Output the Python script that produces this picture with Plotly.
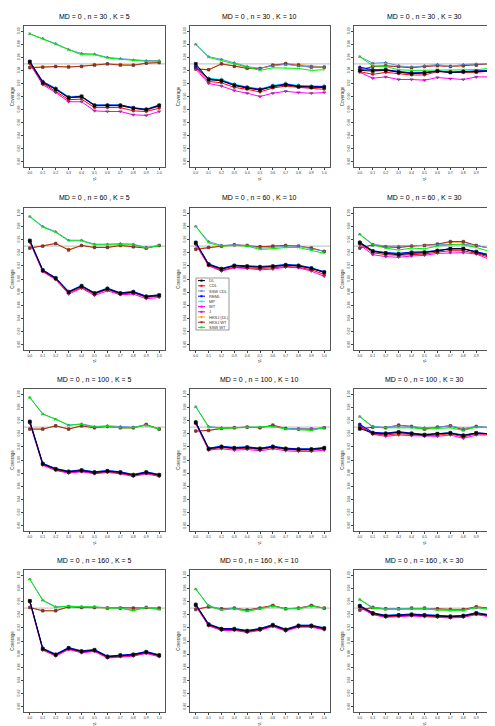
import plotly.graph_objects as go

# ── Axis values ───────────────────────────────────────────────────────────────

TAU2 = [0.0, 0.1, 0.2, 0.3, 0.4, 0.5, 0.6, 0.7, 0.8, 0.9, 1.0]
TAU2_LABELS = ["0.0", "0.1", "0.2", "0.3", "0.4", "0.5", "0.6", "0.7", "0.8", "0.9", "1.0"]
Y_TICKS = [0.80, 0.82, 0.84, 0.86, 0.88, 0.90, 0.92, 0.94, 0.96, 0.98, 1.00]
Y_TICK_LABELS = ["0.80", "0.82", "0.84", "0.86", "0.88", "0.90", "0.92", "0.94", "0.96", "0.98", "1.00"]
NOMINAL = 0.95

SAMPLE_SIZES = [30, 60, 100, 160]
STUDY_COUNTS = [5, 10, 30]

METHODS = ["DL", "CDL", "SSW CDL", "REML", "MP", "WT", "J", "HKSJ (DL)", "HKSJ WT", "SSW WT"]
METHOD_KEYS = ["dl", "cdl", "sswcdl", "reml", "mp", "wt", "j", "hksjdl", "hksjwt", "sswwt"]

# ── Coverage values ───────────────────────────────────────────────────────────

# n = 30, K = 5
dl_n30_k5 = [0.953, 0.921, 0.911, 0.898, 0.900, 0.886, 0.886, 0.886, 0.882, 0.880, 0.886]
cdl_n30_k5 = [0.951, 0.920, 0.908, 0.895, 0.896, 0.883, 0.883, 0.883, 0.878, 0.877, 0.882]
sswcdl_n30_k5 = [0.996, 0.989, 0.981, 0.972, 0.966, 0.965, 0.960, 0.958, 0.956, 0.955, 0.955]
reml_n30_k5 = [0.954, 0.923, 0.912, 0.899, 0.900, 0.887, 0.887, 0.887, 0.883, 0.880, 0.887]
mp_n30_k5 = [0.954, 0.923, 0.913, 0.900, 0.901, 0.887, 0.887, 0.887, 0.883, 0.881, 0.887]
wt_n30_k5 = [0.950, 0.918, 0.906, 0.892, 0.892, 0.878, 0.877, 0.877, 0.872, 0.871, 0.877]
j_n30_k5 = [0.953, 0.922, 0.911, 0.898, 0.899, 0.886, 0.886, 0.886, 0.882, 0.879, 0.885]
hksjdl_n30_k5 = [0.945, 0.945, 0.946, 0.946, 0.946, 0.949, 0.950, 0.949, 0.948, 0.951, 0.952]
hksjwt_n30_k5 = [0.944, 0.945, 0.946, 0.945, 0.946, 0.948, 0.950, 0.948, 0.948, 0.951, 0.952]
sswwt_n30_k5 = [0.996, 0.988, 0.980, 0.971, 0.964, 0.964, 0.959, 0.957, 0.955, 0.954, 0.954]

# n = 30, K = 10
dl_n30_k10 = [0.950, 0.926, 0.924, 0.917, 0.913, 0.910, 0.915, 0.918, 0.915, 0.914, 0.914]
cdl_n30_k10 = [0.944, 0.923, 0.921, 0.914, 0.911, 0.907, 0.913, 0.916, 0.914, 0.913, 0.911]
sswcdl_n30_k10 = [0.980, 0.961, 0.957, 0.952, 0.946, 0.943, 0.947, 0.949, 0.947, 0.945, 0.945]
reml_n30_k10 = [0.946, 0.927, 0.925, 0.918, 0.914, 0.911, 0.916, 0.919, 0.916, 0.915, 0.915]
mp_n30_k10 = [0.946, 0.928, 0.926, 0.919, 0.915, 0.912, 0.917, 0.920, 0.917, 0.916, 0.916]
wt_n30_k10 = [0.942, 0.920, 0.916, 0.909, 0.905, 0.900, 0.905, 0.908, 0.906, 0.905, 0.906]
j_n30_k10 = [0.945, 0.926, 0.924, 0.917, 0.913, 0.910, 0.916, 0.918, 0.916, 0.914, 0.914]
hksjdl_n30_k10 = [0.943, 0.941, 0.950, 0.947, 0.944, 0.943, 0.948, 0.951, 0.949, 0.946, 0.945]
hksjwt_n30_k10 = [0.942, 0.941, 0.950, 0.946, 0.943, 0.943, 0.948, 0.950, 0.948, 0.945, 0.945]
sswwt_n30_k10 = [0.980, 0.960, 0.955, 0.950, 0.944, 0.940, 0.944, 0.944, 0.943, 0.940, 0.941]

# n = 30, K = 30
dl_n30_k30 = [0.940, 0.939, 0.940, 0.937, 0.935, 0.936, 0.939, 0.937, 0.938, 0.938, 0.939]
cdl_n30_k30 = [0.938, 0.934, 0.937, 0.935, 0.933, 0.933, 0.938, 0.937, 0.937, 0.937, 0.939]
sswcdl_n30_k30 = [0.961, 0.951, 0.952, 0.947, 0.945, 0.947, 0.949, 0.946, 0.949, 0.950, 0.950]
reml_n30_k30 = [0.945, 0.941, 0.941, 0.938, 0.936, 0.937, 0.939, 0.937, 0.938, 0.939, 0.940]
mp_n30_k30 = [0.944, 0.941, 0.942, 0.938, 0.937, 0.937, 0.940, 0.938, 0.939, 0.939, 0.940]
wt_n30_k30 = [0.937, 0.928, 0.930, 0.926, 0.926, 0.925, 0.929, 0.927, 0.926, 0.930, 0.930]
j_n30_k30 = [0.943, 0.940, 0.941, 0.937, 0.936, 0.936, 0.939, 0.937, 0.938, 0.938, 0.939]
hksjdl_n30_k30 = [0.941, 0.946, 0.947, 0.946, 0.945, 0.946, 0.948, 0.946, 0.947, 0.948, 0.950]
hksjwt_n30_k30 = [0.940, 0.946, 0.947, 0.946, 0.944, 0.946, 0.947, 0.946, 0.947, 0.948, 0.950]
sswwt_n30_k30 = [0.961, 0.947, 0.946, 0.941, 0.940, 0.940, 0.941, 0.940, 0.941, 0.941, 0.943]

# n = 60, K = 5
dl_n60_k5 = [0.958, 0.913, 0.901, 0.880, 0.889, 0.878, 0.885, 0.878, 0.880, 0.873, 0.875]
cdl_n60_k5 = [0.957, 0.912, 0.900, 0.879, 0.887, 0.877, 0.884, 0.877, 0.879, 0.872, 0.874]
sswcdl_n60_k5 = [0.995, 0.980, 0.972, 0.959, 0.959, 0.953, 0.953, 0.954, 0.953, 0.948, 0.951]
reml_n60_k5 = [0.959, 0.914, 0.902, 0.881, 0.890, 0.879, 0.886, 0.879, 0.881, 0.874, 0.876]
mp_n60_k5 = [0.959, 0.914, 0.902, 0.881, 0.890, 0.879, 0.886, 0.879, 0.881, 0.874, 0.876]
wt_n60_k5 = [0.956, 0.911, 0.899, 0.877, 0.886, 0.875, 0.882, 0.876, 0.877, 0.870, 0.872]
j_n60_k5 = [0.958, 0.913, 0.901, 0.880, 0.889, 0.878, 0.885, 0.878, 0.880, 0.873, 0.875]
hksjdl_n60_k5 = [0.947, 0.950, 0.954, 0.945, 0.951, 0.948, 0.948, 0.951, 0.949, 0.947, 0.951]
hksjwt_n60_k5 = [0.947, 0.950, 0.954, 0.944, 0.951, 0.948, 0.948, 0.951, 0.949, 0.947, 0.951]
sswwt_n60_k5 = [0.995, 0.979, 0.971, 0.958, 0.958, 0.952, 0.952, 0.952, 0.952, 0.947, 0.951]

# n = 60, K = 10
dl_n60_k10 = [0.955, 0.922, 0.915, 0.920, 0.919, 0.918, 0.919, 0.921, 0.920, 0.916, 0.910]
cdl_n60_k10 = [0.954, 0.921, 0.913, 0.918, 0.917, 0.916, 0.917, 0.919, 0.918, 0.914, 0.907]
sswcdl_n60_k10 = [0.980, 0.957, 0.951, 0.952, 0.951, 0.947, 0.948, 0.950, 0.950, 0.946, 0.942]
reml_n60_k10 = [0.956, 0.923, 0.916, 0.921, 0.920, 0.919, 0.920, 0.922, 0.921, 0.917, 0.911]
mp_n60_k10 = [0.956, 0.923, 0.916, 0.921, 0.920, 0.919, 0.920, 0.922, 0.921, 0.917, 0.911]
wt_n60_k10 = [0.952, 0.920, 0.912, 0.917, 0.916, 0.914, 0.915, 0.918, 0.917, 0.912, 0.904]
j_n60_k10 = [0.955, 0.922, 0.915, 0.920, 0.919, 0.918, 0.919, 0.921, 0.920, 0.916, 0.910]
hksjdl_n60_k10 = [0.946, 0.948, 0.950, 0.952, 0.951, 0.949, 0.950, 0.951, 0.950, 0.947, 0.942]
hksjwt_n60_k10 = [0.945, 0.948, 0.950, 0.952, 0.951, 0.949, 0.950, 0.951, 0.950, 0.947, 0.942]
sswwt_n60_k10 = [0.980, 0.955, 0.950, 0.951, 0.950, 0.945, 0.946, 0.948, 0.948, 0.944, 0.939]

# n = 60, K = 30
dl_n60_k30 = [0.955, 0.942, 0.939, 0.937, 0.939, 0.940, 0.943, 0.946, 0.946, 0.941, 0.935]
cdl_n60_k30 = [0.954, 0.940, 0.937, 0.936, 0.937, 0.938, 0.941, 0.943, 0.943, 0.939, 0.933]
sswcdl_n60_k30 = [0.968, 0.953, 0.950, 0.950, 0.951, 0.951, 0.952, 0.953, 0.953, 0.951, 0.947]
reml_n60_k30 = [0.956, 0.943, 0.940, 0.939, 0.941, 0.941, 0.943, 0.946, 0.946, 0.942, 0.937]
mp_n60_k30 = [0.956, 0.943, 0.940, 0.939, 0.941, 0.941, 0.944, 0.946, 0.946, 0.942, 0.937]
wt_n60_k30 = [0.952, 0.937, 0.934, 0.933, 0.935, 0.936, 0.939, 0.940, 0.940, 0.938, 0.930]
j_n60_k30 = [0.956, 0.942, 0.940, 0.938, 0.940, 0.941, 0.943, 0.946, 0.946, 0.941, 0.936]
hksjdl_n60_k30 = [0.947, 0.952, 0.949, 0.948, 0.950, 0.951, 0.953, 0.956, 0.956, 0.951, 0.947]
hksjwt_n60_k30 = [0.947, 0.952, 0.949, 0.948, 0.950, 0.951, 0.953, 0.957, 0.957, 0.951, 0.947]
sswwt_n60_k30 = [0.968, 0.952, 0.947, 0.944, 0.947, 0.946, 0.950, 0.952, 0.952, 0.948, 0.942]

# n = 100, K = 5
dl_n100_k5 = [0.958, 0.894, 0.886, 0.882, 0.884, 0.881, 0.883, 0.881, 0.877, 0.881, 0.877]
cdl_n100_k5 = [0.957, 0.893, 0.885, 0.881, 0.883, 0.880, 0.882, 0.880, 0.876, 0.880, 0.876]
sswcdl_n100_k5 = [0.995, 0.970, 0.962, 0.953, 0.955, 0.951, 0.952, 0.951, 0.950, 0.953, 0.947]
reml_n100_k5 = [0.959, 0.895, 0.887, 0.883, 0.885, 0.882, 0.884, 0.882, 0.878, 0.882, 0.878]
mp_n100_k5 = [0.959, 0.895, 0.887, 0.883, 0.885, 0.882, 0.884, 0.882, 0.878, 0.882, 0.878]
wt_n100_k5 = [0.956, 0.892, 0.884, 0.880, 0.882, 0.879, 0.881, 0.879, 0.875, 0.879, 0.875]
j_n100_k5 = [0.958, 0.894, 0.886, 0.882, 0.884, 0.881, 0.883, 0.881, 0.877, 0.881, 0.877]
hksjdl_n100_k5 = [0.947, 0.947, 0.952, 0.947, 0.952, 0.949, 0.951, 0.949, 0.949, 0.954, 0.947]
hksjwt_n100_k5 = [0.947, 0.947, 0.952, 0.947, 0.952, 0.949, 0.951, 0.949, 0.949, 0.954, 0.947]
sswwt_n100_k5 = [0.995, 0.970, 0.962, 0.953, 0.954, 0.950, 0.951, 0.949, 0.949, 0.953, 0.947]

# n = 100, K = 10
dl_n100_k10 = [0.957, 0.917, 0.920, 0.918, 0.919, 0.917, 0.920, 0.917, 0.916, 0.916, 0.918]
cdl_n100_k10 = [0.956, 0.916, 0.919, 0.917, 0.918, 0.916, 0.919, 0.916, 0.915, 0.915, 0.917]
sswcdl_n100_k10 = [0.981, 0.951, 0.949, 0.950, 0.950, 0.950, 0.951, 0.948, 0.947, 0.947, 0.949]
reml_n100_k10 = [0.958, 0.918, 0.921, 0.919, 0.920, 0.918, 0.921, 0.918, 0.917, 0.917, 0.919]
mp_n100_k10 = [0.958, 0.918, 0.921, 0.919, 0.920, 0.918, 0.921, 0.918, 0.917, 0.917, 0.919]
wt_n100_k10 = [0.955, 0.915, 0.917, 0.915, 0.916, 0.914, 0.917, 0.914, 0.913, 0.913, 0.915]
j_n100_k10 = [0.957, 0.917, 0.920, 0.918, 0.919, 0.917, 0.920, 0.917, 0.916, 0.916, 0.918]
hksjdl_n100_k10 = [0.944, 0.945, 0.948, 0.949, 0.950, 0.949, 0.953, 0.948, 0.947, 0.947, 0.949]
hksjwt_n100_k10 = [0.944, 0.945, 0.948, 0.949, 0.950, 0.949, 0.953, 0.948, 0.947, 0.947, 0.949]
sswwt_n100_k10 = [0.981, 0.950, 0.948, 0.949, 0.950, 0.950, 0.951, 0.947, 0.946, 0.945, 0.949]

# n = 100, K = 30
dl_n100_k30 = [0.948, 0.941, 0.940, 0.942, 0.940, 0.938, 0.940, 0.941, 0.937, 0.941, 0.940]
cdl_n100_k30 = [0.952, 0.940, 0.938, 0.940, 0.939, 0.937, 0.938, 0.940, 0.935, 0.940, 0.939]
sswcdl_n100_k30 = [0.966, 0.951, 0.950, 0.952, 0.951, 0.949, 0.950, 0.952, 0.948, 0.951, 0.950]
reml_n100_k30 = [0.954, 0.942, 0.941, 0.943, 0.941, 0.939, 0.940, 0.941, 0.938, 0.941, 0.940]
mp_n100_k30 = [0.954, 0.942, 0.941, 0.943, 0.941, 0.939, 0.940, 0.942, 0.938, 0.941, 0.940]
wt_n100_k30 = [0.951, 0.939, 0.936, 0.938, 0.937, 0.936, 0.936, 0.938, 0.933, 0.938, 0.938]
j_n100_k30 = [0.954, 0.941, 0.940, 0.942, 0.940, 0.938, 0.940, 0.941, 0.937, 0.941, 0.940]
hksjdl_n100_k30 = [0.947, 0.950, 0.949, 0.953, 0.951, 0.947, 0.950, 0.952, 0.946, 0.951, 0.949]
hksjwt_n100_k30 = [0.947, 0.950, 0.949, 0.953, 0.951, 0.947, 0.950, 0.952, 0.946, 0.951, 0.949]
sswwt_n100_k30 = [0.966, 0.950, 0.949, 0.949, 0.949, 0.947, 0.948, 0.949, 0.945, 0.950, 0.949]

# n = 160, K = 5
dl_n160_k5 = [0.961, 0.888, 0.879, 0.889, 0.884, 0.886, 0.876, 0.878, 0.879, 0.883, 0.878]
cdl_n160_k5 = [0.960, 0.887, 0.878, 0.888, 0.883, 0.885, 0.875, 0.877, 0.878, 0.882, 0.877]
sswcdl_n160_k5 = [0.994, 0.962, 0.952, 0.953, 0.952, 0.952, 0.951, 0.950, 0.947, 0.951, 0.948]
reml_n160_k5 = [0.961, 0.889, 0.880, 0.890, 0.885, 0.887, 0.877, 0.879, 0.880, 0.884, 0.879]
mp_n160_k5 = [0.961, 0.889, 0.880, 0.890, 0.885, 0.887, 0.877, 0.879, 0.880, 0.884, 0.879]
wt_n160_k5 = [0.959, 0.886, 0.877, 0.887, 0.882, 0.884, 0.874, 0.876, 0.877, 0.881, 0.876]
j_n160_k5 = [0.961, 0.888, 0.879, 0.889, 0.884, 0.886, 0.876, 0.878, 0.879, 0.883, 0.878]
hksjdl_n160_k5 = [0.951, 0.946, 0.946, 0.952, 0.951, 0.951, 0.950, 0.950, 0.950, 0.951, 0.950]
hksjwt_n160_k5 = [0.951, 0.946, 0.946, 0.952, 0.951, 0.951, 0.950, 0.950, 0.950, 0.951, 0.950]
sswwt_n160_k5 = [0.994, 0.962, 0.951, 0.953, 0.952, 0.952, 0.950, 0.950, 0.946, 0.951, 0.948]

# n = 160, K = 10
dl_n160_k10 = [0.955, 0.925, 0.918, 0.918, 0.915, 0.918, 0.924, 0.917, 0.923, 0.923, 0.919]
cdl_n160_k10 = [0.954, 0.924, 0.917, 0.917, 0.914, 0.917, 0.923, 0.916, 0.922, 0.922, 0.918]
sswcdl_n160_k10 = [0.979, 0.954, 0.948, 0.950, 0.946, 0.950, 0.953, 0.949, 0.950, 0.953, 0.950]
reml_n160_k10 = [0.956, 0.926, 0.919, 0.919, 0.916, 0.919, 0.925, 0.918, 0.924, 0.924, 0.920]
mp_n160_k10 = [0.956, 0.926, 0.919, 0.919, 0.916, 0.919, 0.925, 0.918, 0.924, 0.924, 0.920]
wt_n160_k10 = [0.953, 0.923, 0.916, 0.916, 0.913, 0.916, 0.922, 0.915, 0.921, 0.921, 0.917]
j_n160_k10 = [0.955, 0.925, 0.918, 0.918, 0.915, 0.918, 0.924, 0.917, 0.923, 0.923, 0.919]
hksjdl_n160_k10 = [0.948, 0.952, 0.949, 0.950, 0.947, 0.950, 0.954, 0.949, 0.950, 0.954, 0.950]
hksjwt_n160_k10 = [0.948, 0.952, 0.949, 0.950, 0.947, 0.950, 0.954, 0.949, 0.950, 0.954, 0.950]
sswwt_n160_k10 = [0.979, 0.953, 0.947, 0.949, 0.945, 0.949, 0.953, 0.949, 0.949, 0.953, 0.950]

# n = 160, K = 30
dl_n160_k30 = [0.953, 0.942, 0.938, 0.939, 0.940, 0.939, 0.938, 0.937, 0.938, 0.942, 0.939]
cdl_n160_k30 = [0.952, 0.941, 0.937, 0.938, 0.939, 0.938, 0.937, 0.936, 0.937, 0.941, 0.938]
sswcdl_n160_k30 = [0.963, 0.951, 0.949, 0.949, 0.950, 0.950, 0.948, 0.947, 0.947, 0.951, 0.949]
reml_n160_k30 = [0.954, 0.943, 0.939, 0.940, 0.941, 0.940, 0.939, 0.938, 0.939, 0.943, 0.940]
mp_n160_k30 = [0.954, 0.943, 0.939, 0.940, 0.941, 0.940, 0.939, 0.938, 0.939, 0.943, 0.940]
wt_n160_k30 = [0.951, 0.940, 0.936, 0.937, 0.938, 0.937, 0.936, 0.935, 0.936, 0.940, 0.937]
j_n160_k30 = [0.953, 0.942, 0.938, 0.939, 0.940, 0.939, 0.938, 0.937, 0.938, 0.942, 0.939]
hksjdl_n160_k30 = [0.947, 0.951, 0.949, 0.949, 0.950, 0.950, 0.949, 0.948, 0.948, 0.952, 0.950]
hksjwt_n160_k30 = [0.947, 0.951, 0.949, 0.949, 0.950, 0.950, 0.949, 0.948, 0.948, 0.952, 0.950]
sswwt_n160_k30 = [0.963, 0.950, 0.948, 0.948, 0.949, 0.949, 0.947, 0.946, 0.946, 0.951, 0.948]

# ── Styling ───────────────────────────────────────────────────────────────────

W, H = 495, 726
STYLES = {
    "dl": {"color": "#000000", "symbol": "square", "size": 3.2},
    "cdl": {"color": "#FF0000", "symbol": "circle", "size": 2.6},
    "sswcdl": {"color": "#6495ED", "symbol": "triangle-up", "size": 2.6},
    "reml": {"color": "#0000FF", "symbol": "square", "size": 2.4},
    "mp": {"color": "#00FFFF", "symbol": "diamond", "size": 2.6},
    "wt": {"color": "#FF00FF", "symbol": "triangle-down", "size": 3.0},
    "j": {"color": "#A020F0", "symbol": "square", "size": 2.4},
    "hksjdl": {"color": "#FFA500", "symbol": "circle", "size": 2.6},
    "hksjwt": {"color": "#A52A2A", "symbol": "square", "size": 2.6},
    "sswwt": {"color": "#00EE00", "symbol": "x-thin-open", "size": 3.0},
}
DRAW_ORDER = ["hksjdl", "hksjwt", "sswcdl", "sswwt", "wt", "cdl", "mp", "j", "reml", "dl"]

# plot-box pixel extents
COL_PX = [(16, 157), (182, 322), (346, 487)]
ROW_PX = [(18, 159), (200, 342), (381, 523), (562, 704)]


def px_x(x):
    return x / W


def px_y(y):
    return 1 - y / H


fig = go.Figure()
annotations = []
shapes = []

for r, n in enumerate(SAMPLE_SIZES):
    for c, k in enumerate(STUDY_COUNTS):
        idx = r * 3 + c + 1
        sfx = "" if idx == 1 else str(idx)
        for key in DRAW_ORDER:
            st = STYLES[key]
            fig.add_trace(go.Scatter(
                x=TAU2, y=globals()[f"{key}_n{n}_k{k}"], mode="lines+markers", showlegend=False,
                line={"color": st["color"], "width": 1.0},
                marker={"symbol": st["symbol"], "size": st["size"], "color": st["color"],
                        "line": {"color": "#333333", "width": 0.4}},
                xaxis=f"x{sfx}", yaxis=f"y{sfx}", hoverinfo="skip"))
        x0, x1 = COL_PX[c]
        y0, y1 = ROW_PX[r]
        fig.layout[f"xaxis{sfx}"] = dict(
            domain=[px_x(x0), px_x(x1)], anchor=f"y{sfx}", range=[-0.045, 1.045],
            tickvals=TAU2, ticktext=TAU2_LABELS, ticks="outside", ticklen=2, tickwidth=0.6, tickcolor="#444",
            tickfont={"size": 3.5, "color": "#333"}, showline=True, mirror=True, linecolor="#555", linewidth=1,
            showgrid=False, zeroline=False)
        fig.layout[f"yaxis{sfx}"] = dict(
            domain=[px_y(y1), px_y(y0)], anchor=f"x{sfx}", range=[0.792, 1.008],
            tickvals=Y_TICKS, ticktext=Y_TICK_LABELS, ticks="outside", ticklen=2, tickwidth=0.6, tickcolor="#444",
            tickangle=-90, tickfont={"size": 3.5, "color": "#333"}, showline=True, mirror=True, linecolor="#555",
            linewidth=1, showgrid=False, zeroline=False,
            title={"text": "Coverage", "font": {"size": 4.5, "color": "#333"}, "standoff": 2})
        shapes.append(dict(type="line", xref=f"x{sfx} domain", x0=0, x1=1, yref=f"y{sfx}", y0=NOMINAL, y1=NOMINAL,
                           line={"color": "#C8C8C8", "width": 1.2}, layer="below"))
        annotations.append(dict(text=f"MD = 0 , n = {n} , K = {k}", xref="paper", yref="paper",
                                x=px_x((x0 + x1) / 2), y=px_y(y0 - 10), showarrow=False,
                                font={"size": 7, "color": "#000"}, xanchor="center", yanchor="middle"))
        annotations.append(dict(text="τ²", xref="paper", yref="paper",
                                x=px_x((x0 + x1) / 2), y=px_y(y1 + 12), showarrow=False, borderpad=0,
                                font={"size": 4.5, "color": "#333"}, xanchor="center", yanchor="middle"))

# legend box inside the n = 60, K = 10 panel
LX0, LX1, LY0, LY1 = 188, 221, 270, 322
shapes.append(dict(type="rect", xref="paper", yref="paper", x0=px_x(LX0), x1=px_x(LX1), y0=px_y(LY1), y1=px_y(LY0),
                   line={"color": "#555", "width": 0.6}, fillcolor="white"))
step = (LY1 - LY0) / len(METHODS)
for i, (name, key) in enumerate(zip(METHODS, METHOD_KEYS)):
    cy = LY0 + step * (i + 0.5)
    col = STYLES[key]["color"]
    shapes.append(dict(type="line", xref="paper", yref="paper", x0=px_x(LX0 + 2), x1=px_x(LX0 + 9),
                       y0=px_y(cy), y1=px_y(cy), line={"color": col, "width": 1.0}))
    shapes.append(dict(type="rect", xref="paper", yref="paper", x0=px_x(LX0 + 4.5), x1=px_x(LX0 + 6.5),
                       y0=px_y(cy + 1.0), y1=px_y(cy - 1.0), line={"width": 0}, fillcolor=col))
    annotations.append(dict(text=name, xref="paper", yref="paper", x=px_x(LX0 + 11), y=px_y(cy), showarrow=False,
                            xanchor="left", yanchor="middle", font={"size": 4, "color": "#333"}))

fig.update_layout(
    width=W, height=H, margin={"l": 0, "r": 0, "t": 0, "b": 0},
    paper_bgcolor="white", plot_bgcolor="white",
    font={"family": "Liberation Sans, Arial, sans-serif"},
    shapes=shapes, annotations=annotations, showlegend=False)

fig.write_html("out.html")
